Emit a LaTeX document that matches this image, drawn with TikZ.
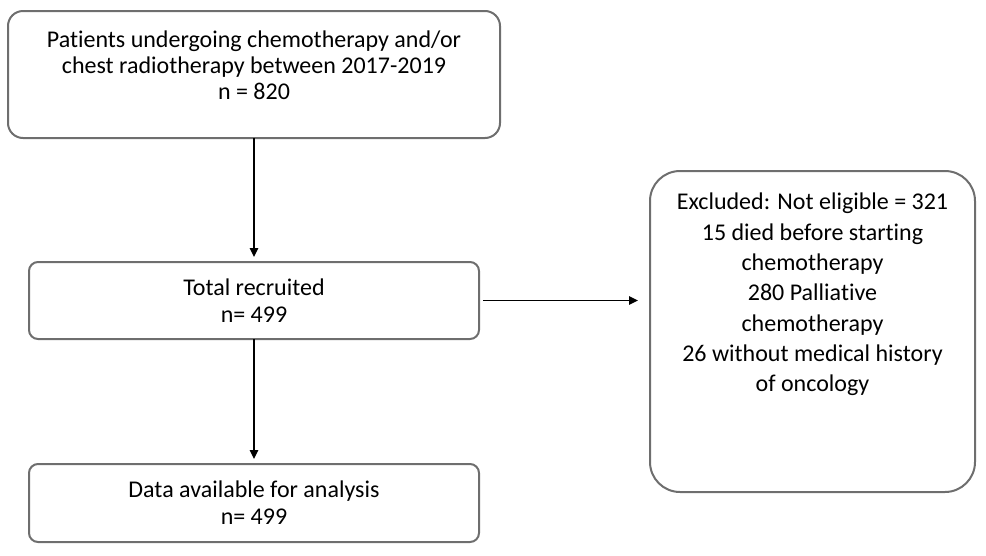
\documentclass[tikz,border=0pt]{standalone}
\usepackage{fontspec}
\setmainfont{Carlito}[RawFeature={-liga}]
\usetikzlibrary{
  arrows.meta
}
\definecolor{frame gray}{HTML}{6E6E6E}
\tikzset{
  % For the rounded boxes of the flow chart.
  box/.style={
    draw=frame gray,
    line width=2pt,
    rounded corners=9pt,
    inner sep=0pt,
    outer sep=0pt,
    align=center,
    font={\fontsize{24pt}{27pt}\selectfont}},
%
  % For text set at the top of a taller box.
  box text/.style={
    anchor=north,
    inner sep=0pt,
    align=center},
%
  % For connectors between the boxes.
  flow/.style={
    line width=1.3pt,
    -{Triangle[length=9pt,width=8.5pt]},
    shorten >=5pt}
}

\begin{document}
\begin{tikzpicture}[x=1pt,y=-1pt]
  \useasboundingbox (0,0) rectangle (986,555);

  \node[box,
        rounded corners=15pt,
        minimum width=492pt,
        minimum height=127pt] (start) at (254,74.5) {};
  \node[box text,
        font={\fontsize{24pt}{26pt}\selectfont}] (start text)
    at ([yshift=-20pt]start.north)
    {Patients undergoing chemotherapy and/or\\
     chest radiotherapy between 2017-2019\\
     n = 820};

  \node[box,
        minimum width=450pt,
        minimum height=77pt] (recruited) at (254,300.5)
    {Total recruited\\n= 499};

  \node[box,
        minimum width=450pt,
        minimum height=78pt] (analysis) at (254,503)
    {Data available for analysis\\n= 499};

  \node[box,
        rounded corners=30pt,
        minimum width=325pt,
        minimum height=321pt] (excluded) at (812.5,331.5) {};
  \node[box text,
        font={\fontsize{24pt}{30.3pt}\selectfont}] (excluded text)
    at ([yshift=-22pt]excluded.north)
    {Excluded: Not eligible = 321\\
     15 died before starting\\
     chemotherapy\\
     280 Palliative\\
     chemotherapy\\
     26 without medical history\\
     of oncology};

  \draw[flow] (start.south) -- (recruited.north);
  \draw[flow] (recruited.south) -- (analysis.north);
  \draw[flow, shorten <=4pt, shorten >=12pt]
    (recruited.east) -- (recruited.east -| excluded.west);
\end{tikzpicture}
\end{document}
